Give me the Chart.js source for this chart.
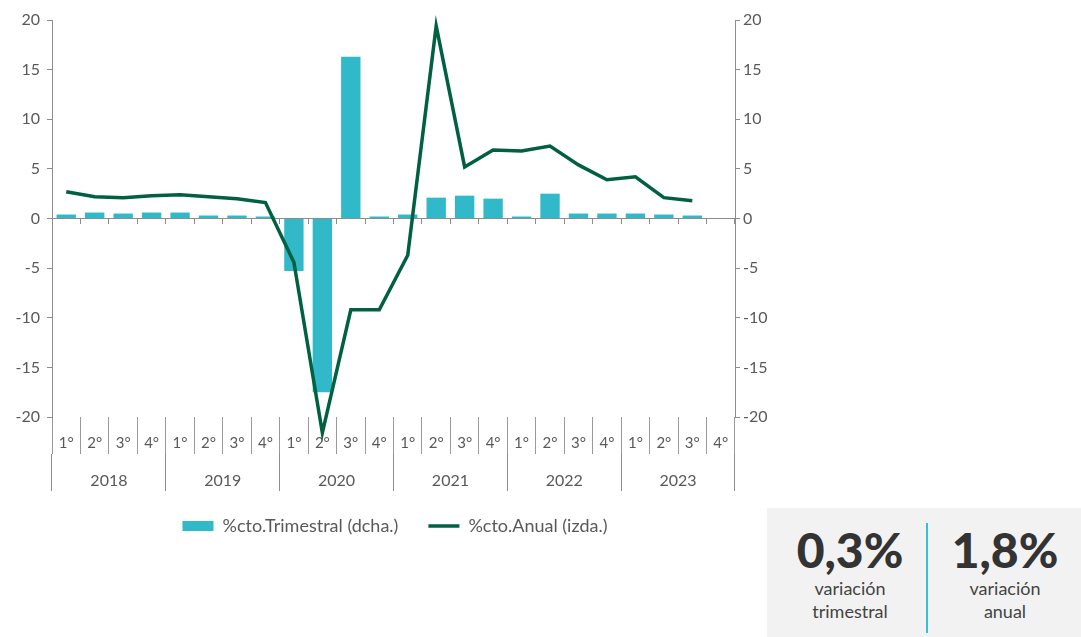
<!DOCTYPE html>
<html lang="es">
<head>
<meta charset="utf-8">
<script src="https://cdn.jsdelivr.net/npm/chart.js@4"></script>
<style>
  body { margin: 0; background: #fff; font-family: Lato, "Open Sans", sans-serif; }
  #wrap { position: absolute; left: 0; top: 0; width: 790px; height: 545px; }
  #stats { position: absolute; left: 767px; top: 508px; width: 314px; height: 129px; background: #f2f2f2; }
  .col { position: absolute; top: 15px; width: 150px; text-align: center; color: #444; }
  .col .big { font-size: 48px; font-weight: 900; color: #333; line-height: 54px; }
  .col .txt { font-size: 18px; line-height: 23px; }
  #sep { position: absolute; left: 159px; top: 15px; width: 2px; height: 110px; background: #3bbfd0; }
</style>
</head>
<body>
<div id="wrap"><canvas id="chart"></canvas></div>
<div id="stats">
  <div class="col" style="left:8px"><div class="big">0,3%</div><div class="txt">variación<br>trimestral</div></div>
  <div id="sep"></div>
  <div class="col" style="left:163px"><div class="big">1,8%</div><div class="txt">variación<br>anual</div></div>
</div>
<script>
// Chart data
const years = ['2018', '2019', '2020', '2021', '2022', '2023'];
const quarterLabels = ['1°', '2°', '3°', '4°'];
const trimestral = [0.4, 0.6, 0.5, 0.6, 0.6, 0.3, 0.3, 0.2, -5.3, -17.5, 16.3, 0.2,
                    0.4, 2.1, 2.3, 2.0, 0.2, 2.5, 0.5, 0.5, 0.5, 0.4, 0.3, null];
const anual = [2.7, 2.2, 2.1, 2.3, 2.4, 2.2, 2.0, 1.6, -4.4, -21.6, -9.2, -9.2,
               -3.7, 19.4, 5.2, 6.9, 6.8, 7.3, 5.4, 3.9, 4.2, 2.1, 1.8, null];
const yTicks = { min: -20, max: 20, step: 5 };

const categories = years.flatMap(y => quarterLabels.map(q => `${y} ${q}`));
const quarterRow = years.flatMap(() => quarterLabels);

const AXIS = '#8c8c8c';
const TEXT = '#595959';
const FONT = 'Lato, "Open Sans", sans-serif';

Chart.defaults.font.family = FONT;
Chart.defaults.color = TEXT;

const ctx = document.getElementById('chart').getContext('2d');

new Chart(ctx, {
    type: 'bar',
    data: {
        labels: categories,
        datasets: [{
            label: '%cto.Trimestral (dcha.)',
            data: trimestral,
            yAxisID: 'y2',
            backgroundColor: '#31b8c9',
            borderWidth: 0,
            categoryPercentage: 0.68,
            barPercentage: 1,
            pointStyle: 'rect',
            order: 1
        }, {
            type: 'line',
            label: '%cto.Anual (izda.)',
            data: anual,
            yAxisID: 'y',
            borderColor: '#00603f',
            backgroundColor: '#00603f',
            borderWidth: 3.5,
            pointRadius: 0,
            pointStyle: 'line',
            tension: 0,
            clip: false,
            order: 0
        }]
    },
    options: {
        responsive: true,
        maintainAspectRatio: false,
        animation: false,
        layout: { padding: { top: 20, left: 0, right: 0, bottom: 0 } },
        scales: {
            x: {
                position: { y: 0 },
                offset: true,
                ticks: { display: false },
                grid: { offset: true, drawOnChartArea: false, drawTicks: true, tickLength: 5, color: AXIS },
                border: { display: true, color: AXIS, width: 1 }
            },
            xq: {
                axis: 'x',
                type: 'category',
                position: 'bottom',
                labels: quarterRow,
                offset: true,
                ticks: { autoSkip: false, maxRotation: 0, padding: -20, font: { size: 15 }, color: TEXT },
                grid: { offset: true, drawOnChartArea: false, tickLength: 37, color: '#9a9a9a' },
                border: { display: false },
                afterFit: s => { s.height = 37; }
            },
            xy: {
                axis: 'x',
                type: 'category',
                position: 'bottom',
                labels: years,
                offset: true,
                ticks: { autoSkip: false, maxRotation: 0, padding: -20, font: { size: 16 }, color: TEXT },
                grid: { offset: true, drawOnChartArea: false, tickLength: 37, color: AXIS },
                border: { display: false },
                afterFit: s => { s.height = 33; }
            },
            y: {
                position: 'left',
                min: yTicks.min,
                max: yTicks.max,
                ticks: { stepSize: yTicks.step, padding: 7, font: { size: 16 }, color: TEXT },
                grid: { drawOnChartArea: false, tickLength: 5, color: AXIS },
                border: { display: true, color: AXIS },
                afterFit: s => { s.width = 52; }
            },
            y2: {
                position: 'right',
                min: yTicks.min,
                max: yTicks.max,
                ticks: { stepSize: yTicks.step, padding: 3, font: { size: 16 }, color: TEXT },
                grid: { drawOnChartArea: false, tickLength: 5, color: AXIS },
                border: { display: true, color: AXIS },
                afterFit: s => { s.width = 55; }
            }
        },
        plugins: {
            legend: {
                position: 'bottom',
                labels: {
                    usePointStyle: true,
                    pointStyleWidth: 31,
                    boxWidth: 31,
                    boxHeight: 10,
                    padding: 30,
                    font: { size: 18 },
                    color: TEXT,
                    sort: (a, b) => a.datasetIndex - b.datasetIndex
                }
            },
            tooltip: { enabled: false }
        }
    }
});
</script>
</body>
</html>
